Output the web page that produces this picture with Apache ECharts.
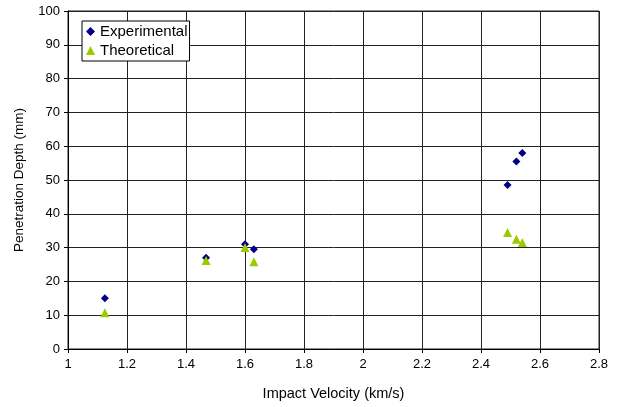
<!DOCTYPE html>
<html><head><meta charset="utf-8">
<script src="https://cdn.jsdelivr.net/npm/echarts@6/dist/echarts.min.js"></script>
<style>html,body{margin:0;padding:0;background:#fff}#c{width:629px;height:407px}</style>
</head><body><div id="c"></div>
<script>
var velocity = [1.125, 1.468, 1.60, 1.63, 2.49, 2.52, 2.54];
var experimental = [15.0, 27.0, 31.0, 29.5, 48.5, 55.5, 58.0];
var theoretical = [10.7, 26.2, 30.0, 25.8, 34.5, 32.5, 31.5];
var xTicks = [1, 1.2, 1.4, 1.6, 1.8, 2, 2.2, 2.4, 2.6, 2.8];
var yTicks = [0, 10, 20, 30, 40, 50, 60, 70, 80, 90, 100];

function pairs(xs, ys){ return xs.map(function(x,i){ return [x, ys[i]]; }); }
var font = 'Liberation Sans, Arial, sans-serif';
var chart = echarts.init(document.getElementById('c'));
chart.setOption({
  animation: false,
  backgroundColor: '#fff',
  grid: {left: 68, right: 30, top: 11, bottom: 58, containLabel: false, show: true, borderColor: '#222', borderWidth: 1},
  legend: {
    orient: 'vertical', left: 82, top: 21,
    backgroundColor: '#fff', borderColor: '#000', borderWidth: 1,
    padding: [3, 2, 3, 4], itemGap: 4, itemWidth: 9, itemHeight: 9,
    textStyle: {fontFamily: font, fontSize: 15, color: '#000'},
    data: [{name: 'Experimental', icon: 'diamond'}, {name: 'Theoretical', icon: 'triangle'}]
  },
  xAxis: {
    type: 'value', min: xTicks[0], max: xTicks[xTicks.length-1], interval: 0.2,
    name: 'Impact Velocity (km/s)', nameLocation: 'middle', nameGap: 37,
    nameTextStyle: {fontFamily: font, fontSize: 14.5, color: '#000'},
    axisLine: {show: true, onZero: false, lineStyle: {color: '#000', width: 1}},
    axisTick: {show: true, length: 4, lineStyle: {color: '#000'}},
    axisLabel: {fontFamily: font, fontSize: 13, color: '#000', margin: 9,
      formatter: function(v){ return String(Math.round(v*10)/10); }},
    splitLine: {show: true, lineStyle: {color: '#222', width: 1}}
  },
  yAxis: {
    type: 'value', min: yTicks[0], max: yTicks[yTicks.length-1], interval: 10,
    name: 'Penetration Depth (mm)', nameLocation: 'middle', nameGap: 42,
    nameTextStyle: {fontFamily: font, fontSize: 13.5, color: '#000'},
    axisLine: {show: true, lineStyle: {color: '#000', width: 1}},
    axisTick: {show: true, length: 4, lineStyle: {color: '#000'}},
    axisLabel: {fontFamily: font, fontSize: 13, color: '#000', margin: 8},
    splitLine: {show: true, lineStyle: {color: '#222', width: 1}}
  },
  series: [
    {name: 'Experimental', type: 'scatter', symbol: 'diamond', symbolSize: 8,
     itemStyle: {color: '#000080', opacity: 1}, data: pairs(velocity, experimental)},
    {name: 'Theoretical', type: 'scatter', symbol: 'triangle', symbolSize: 9,
     itemStyle: {color: '#99CC00', opacity: 1}, data: pairs(velocity, theoretical)}
  ]
});
</script></body></html>
